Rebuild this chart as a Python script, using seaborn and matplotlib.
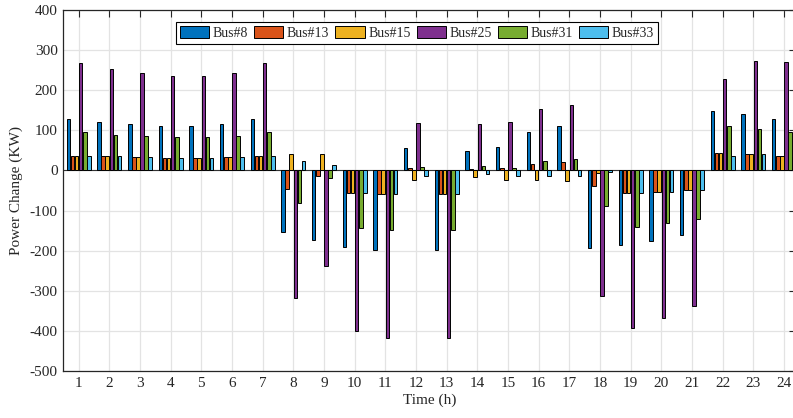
import numpy as np
import pandas as pd
import matplotlib
matplotlib.use("Agg")
import matplotlib.pyplot as plt
import seaborn as sns

hours = list(range(1, 25))
bus8 = [127.5, 120, 116, 112, 112, 116, 127.5, -152.5, -174, -191, -199, 57, -199, 49, 59, 96, 111, -192.5, -187, -176, -162, 147.5, 140, 128]
bus13 = [36.7, 35, 33.3, 31.7, 31.7, 34, 36.7, -46, -15, -57, -59, 5, -59, 3, 6, 17, 21, -39, -56, -52.5, -48, 43, 40, 36.7]
bus15 = [36.7, 35, 33.3, 31.7, 31.7, 34, 36.7, 41.7, 40, -57, -59, -23, -59, -17, -25, -25, -27.5, -7, -56, -52.5, -48, 43, 40, 36.7]
bus25 = [269, 252.5, 243, 235, 235, 243, 269, -319, -237.5, -400, -417.5, 119, -417.5, 117, 120, 152, 164, -312, -392, -369, -339, 227.5, 272.5, 270]
bus31 = [95, 89, 86.7, 83.3, 83.3, 86.7, 95, -82, -19, -142.5, -149, 7.5, -149, 10, 7, 24, 27.5, -89, -140, -132, -122, 111, 104, 96.7]
bus33 = [36.7, 35, 34, 31.7, 31.7, 34, 36.7, 22.5, 13.3, -57, -59, -13, -59, -10, -13, -13, -15, -5, -56, -52.5, -48, 35, 40, 36.7]

bus_names = ["Bus#8", "Bus#13", "Bus#15", "Bus#25", "Bus#31", "Bus#33"]
series = [bus8, bus13, bus15, bus25, bus31, bus33]
colors = ["#0072BD", "#D95319", "#EDB120", "#7E2F8E", "#77AC30", "#4DBEEE"]

rows = []
for name, vals in zip(bus_names, series):
    for h, v in zip(hours, vals):
        rows.append({"Time": h, "Power": v, "Bus": name})
df = pd.DataFrame(rows)

sns.set_style("white")
plt.rcParams["font.family"] = ["Liberation Serif", "DejaVu Serif"]
plt.rcParams["axes.unicode_minus"] = False

fig = plt.figure(figsize=(7.93, 4.18), dpi=100)
left = 63.3 / 793
right = 796 / 793
bottom = 1 - 371 / 418
top = 1 - 10 / 418
ax = fig.add_axes([left, bottom, right - left, top - bottom])

sns.barplot(data=df, x="Time", y="Power", hue="Bus", hue_order=bus_names,
            palette=colors, edgecolor="black", linewidth=0.7, width=0.8,
            saturation=1, ax=ax, zorder=3)

# narrow bars slightly (MATLAB style)
for p in ax.patches:
    w = p.get_width()
    if w > 0:
        cx = p.get_x() + w / 2
        nw = w * 0.86
        p.set_x(cx - nw / 2)
        p.set_width(nw)

ax.set_xlim(-0.5, 23 + (793 - 781) / 30.55)
ax.set_ylim(-500, 400)
ax.set_yticks(np.arange(-500, 401, 100))
ax.set_xticks(range(24))
ax.set_xticklabels([str(h) for h in hours])

ax.grid(True, color="#E3E3E3", linewidth=0.9, zorder=0)
ax.set_axisbelow(True)
ax.axhline(0, color="#333333", linewidth=0.8, zorder=2)

for s in ax.spines.values():
    s.set_color("#262626")
    s.set_linewidth(0.9)

ax.tick_params(axis="both", direction="in", length=5, width=0.8, color="#262626",
               labelsize=11, labelcolor="#262626", top=True, right=True, pad=4)
ax.set_xlabel("Time (h)", fontsize=11, color="#262626", labelpad=3)
ax.set_ylabel("Power Change (KW)", fontsize=11, color="#262626", labelpad=5)

handles, labels = ax.get_legend_handles_labels()
ax.legend(handles, labels, ncol=6, loc="upper center",
          bbox_to_anchor=((417 - 63.3) / (796 - 63.3), 1 - (21.7 - 10) / 361),
          fancybox=False, edgecolor="black", framealpha=1, fontsize=10,
          handlelength=2.1, handleheight=1.0, handletextpad=0.25,
          columnspacing=0.45, borderpad=0.3, borderaxespad=0)
ax.get_legend().get_frame().set_linewidth(0.8)

fig.savefig("out.png", dpi=100)
